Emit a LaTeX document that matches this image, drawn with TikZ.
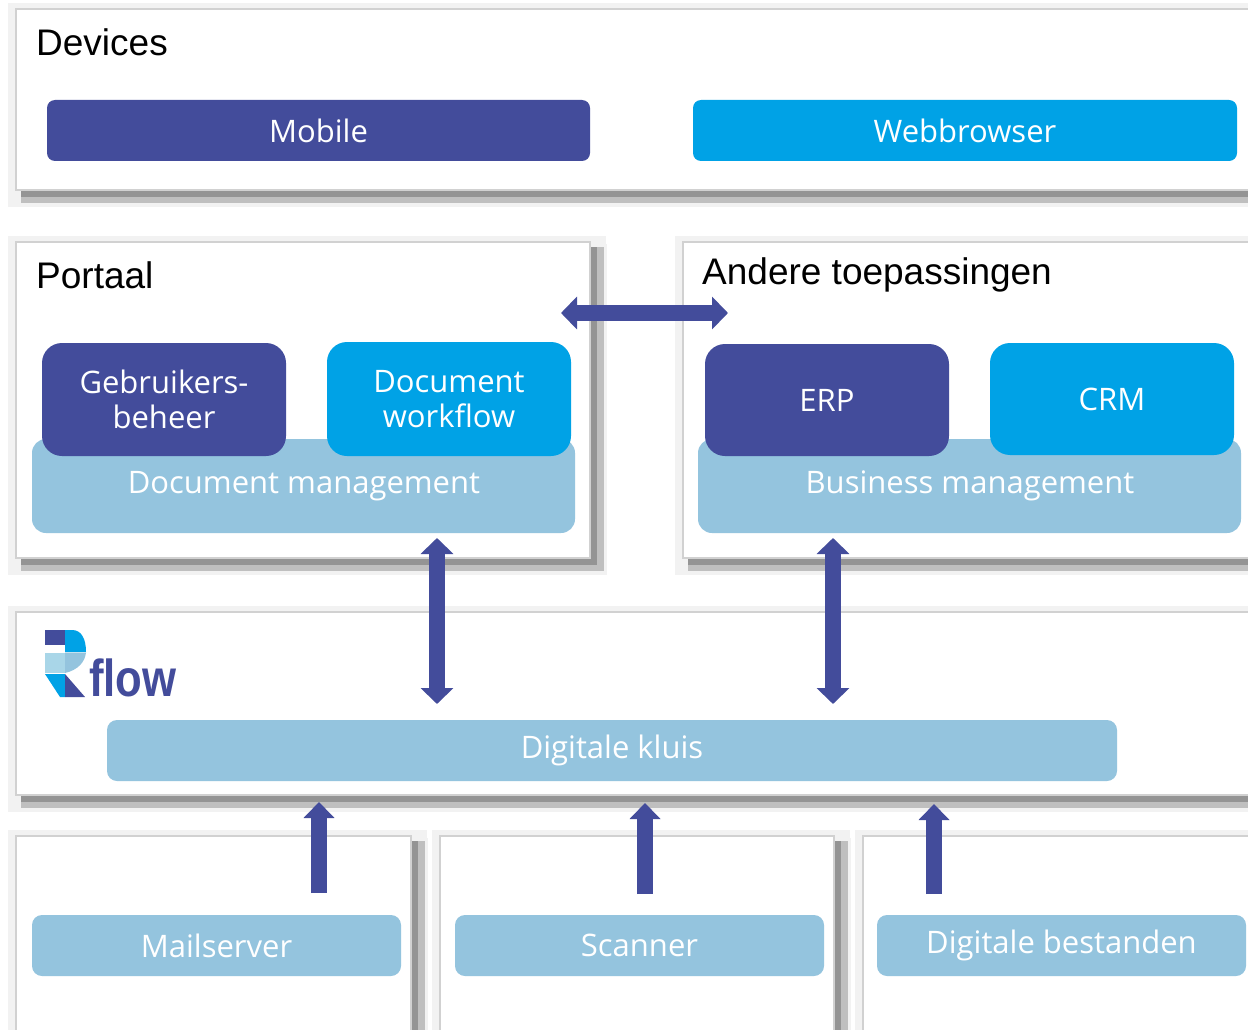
\documentclass[tikz,border=0pt]{standalone}
\usepackage{fontspec}
\setmainfont{Liberation Sans}
\newfontfamily\boxfont{Open Sans}
\usetikzlibrary{arrows.meta}
\definecolor{navy}{HTML}{434C9B}
\definecolor{cyanb}{HTML}{00A2E6}
\definecolor{pale}{HTML}{94C4DE}
\definecolor{paler}{HTML}{A9D6E8}
\tikzset{
  x=1pt,y=-1pt,
  box/.style={inner sep=0pt,outer sep=0pt,align=center,text=white,font=\boxfont\fontsize{31}{36}\selectfont,anchor=north west},
  navybox/.style={box,fill=navy,rounded corners=#1},
  cyanbox/.style={box,fill=cyanb,rounded corners=#1},
  palebox/.style={box,fill=pale,rounded corners=#1},
  title/.style={anchor=west,inner sep=0pt,font=\fontsize{37}{42}\selectfont,text=black},
  link/.style={draw=navy,line width=16pt},
  both/.style={link,{Triangle[length=16pt,width=32pt]}-{Triangle[length=16pt,width=32pt]}},
  up/.style={link,-{Triangle[length=16pt,width=30pt]}},
  frame/.style={draw=black!18,line width=1.5pt,fill=white,inner sep=0pt,outer sep=0pt,anchor=north west},
}
\newcommand{\panel}[5]{%
  \fill[black!5] (#2-8,#3-6) rectangle (#4+17,#5+17);
  \fill[white] (#4+16,#3-8) rectangle (#4+22,#3+2);
  \fill[black!25] (#2+5,#5) rectangle (#4+14,#5+13);
  \fill[black!25] (#4,#3+5) rectangle (#4+14,#5+13);
  \fill[black!42] (#2+5,#5) rectangle (#4+7,#5+7);
  \fill[black!42] (#4,#3+5) rectangle (#4+7,#5+7);
  \node[frame,minimum width=#4-#2,minimum height=#5-#3] (#1) at (#2,#3) {};
}
\newcommand{\bx}[7]{\node[#1=#2,minimum width=#5-#3,minimum height=#6-#4] (#7) at (#3,#4) {};}
\begin{document}
\begin{tikzpicture}
\useasboundingbox (0,0) rectangle (1248,1030);
\clip (0,0) rectangle (1248,1030);
\fill[white] (0,0) rectangle (1248,1030);
\panel{devices}{16}{9}{1290}{190}
\panel{portaal}{16}{242}{590}{558}
\panel{andere}{683}{242}{1290}{558}
\panel{rflow}{16}{612}{1290}{795}
\panel{src1}{16}{836}{411}{1060}
\panel{src2}{440}{836}{834}{1060}
\panel{src3}{863}{836}{1290}{1060}

\node[title] (tdev) at (36,42) {Devices};
\node[title] (tpor) at (36,275) {Portaal};
\node[title] (tand) at (702,275) {Andere toepassingen};

\node[navybox=8pt,minimum width=543pt,minimum height=61pt] (mobile) at (47,100) {Mobile};
\node[cyanbox=8pt,minimum width=544pt,minimum height=61pt] (web) at (693,100) {Webbrowser};

\node[palebox=14pt,minimum width=543pt,minimum height=94pt,text depth=0pt] (dm) at (32,439) {};
\node at (304,486) [text=white,font=\boxfont\fontsize{31}{36}\selectfont,inner sep=0pt] (dmt) {Document management};
\node[palebox=14pt,minimum width=543pt,minimum height=94pt] (bm) at (698,439) {};
\node at (970,486) [text=white,font=\boxfont\fontsize{31}{36}\selectfont,inner sep=0pt] (bmt) {Business management};

\node[navybox=20pt,minimum width=244pt,minimum height=113pt] (geb) at (42,343) {Gebruikers-\\[-1pt]beheer};
\node[cyanbox=20pt,minimum width=244pt,minimum height=114pt] (doc) at (327,342) {Document\\[-1pt]workflow};
\node[navybox=20pt,minimum width=244pt,minimum height=112pt] (erp) at (705,344) {ERP};
\node[cyanbox=20pt,minimum width=244pt,minimum height=112pt] (crm) at (990,343) {CRM};

\node[palebox=10pt,minimum width=1010pt,minimum height=61pt] (kluis) at (107,720) {Digitale kluis};
\node[palebox=10pt,minimum width=369pt,minimum height=61pt] (mail) at (32,915) {Mailserver};
\node[palebox=10pt,minimum width=369pt,minimum height=61pt] (scan) at (455,915) {Scanner};
\node[palebox=10pt,minimum width=369pt,minimum height=61pt] (best) at (877,915) {Digitale bestanden};

% logo
\fill[navy] (45,630) rectangle (65,645);
\fill[cyanb] (65,630) -- (72,630) .. controls (81,630) and (86,638) .. (86,652) -- (65,652) -- (65,645) -- cycle;
\fill[pale] (65,652.5) -- (86,652.5) .. controls (85,662) and (78,670) .. (65,673) -- cycle;
\fill[paler] (45,652.5) rectangle (65,673);
\fill[cyanb] (45,674) -- (65,674) -- (65,697) -- (60,697) -- cycle;
\fill[navy] (65,674) -- (85,697) -- (65,697) -- cycle;
\node[anchor=base west,inner sep=0pt,text=navy,font=\bfseries\fontsize{52}{52}\selectfont,xscale=.84] (flow) at (89,696) {flow};

% connectors
\coordinate (a1) at (561,313); \coordinate (a2) at (728,313);
\path[both] (a1) -- (a2);
\coordinate (b1) at (437,538); \coordinate (b2) at (437,704);
\path[both] (b1) -- (b2);
\coordinate (c1) at (833,538); \coordinate (c2) at (833,704);
\path[both] (c1) -- (c2);
\coordinate (d1) at (319,893); \coordinate (d2) at (319,802);
\path[up] (d1) -- (d2);
\coordinate (e1) at (645,894); \coordinate (e2) at (645,803);
\path[up] (e1) -- (e2);
\coordinate (f1) at (934,894); \coordinate (f2) at (934,804);
\path[up] (f1) -- (f2);
\end{tikzpicture}
\end{document}
